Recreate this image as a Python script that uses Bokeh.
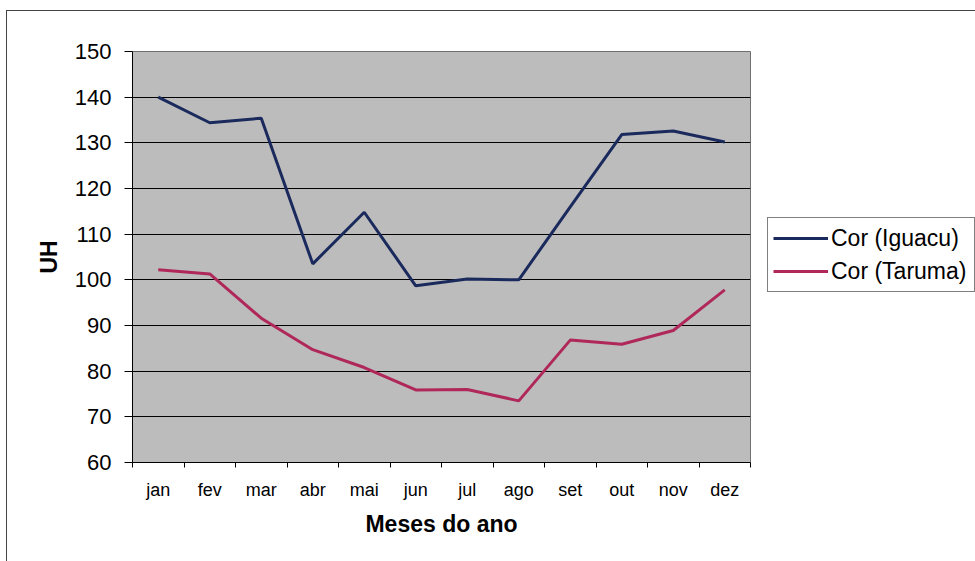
from bokeh.plotting import figure
from bokeh.layouts import row
from bokeh.models import FixedTicker, Legend, LegendItem, Range1d
from bokeh.embed import file_html
from bokeh.resources import INLINE

months = ["jan", "fev", "mar", "abr", "mai", "jun", "jul", "ago", "set", "out", "nov", "dez"]
cor_iguacu = [140.0, 134.4, 135.4, 103.5, 114.8, 98.7, 100.2, 100.0, 116.0, 131.8, 132.6, 130.2]
cor_taruma = [102.2, 101.3, 91.6, 84.7, 80.8, 75.9, 76.0, 73.5, 86.8, 85.9, 88.9, 97.8]
series_names = ["Cor (Iguacu)", "Cor (Taruma)"]
series_colors = ["#1b2a5c", "#b0285a"]
y_ticks = [60, 70, 80, 90, 100, 110, 120, 130, 140, 150]

xs = list(range(1, len(months) + 1))
FONT = "Liberation Sans"

# ---- main chart -------------------------------------------------------
p = figure(width=744, height=550, output_backend="svg", toolbar_location=None,
           x_range=Range1d(0.5, 12.5), y_range=Range1d(60, 150),
           min_border_left=125, min_border_right=1, min_border_top=40, min_border_bottom=99)

p.background_fill_color = "#bcbcbc"
p.border_fill_color = "white"
p.outline_line_color = "#707070"
p.outline_line_width = 1

# y axis
p.yaxis.ticker = FixedTicker(ticks=y_ticks)
p.yaxis.major_label_text_font = FONT
p.yaxis.major_label_text_font_size = "22px"
p.yaxis.major_label_text_color = "black"
p.yaxis.major_label_standoff = 13
p.yaxis.major_tick_out = 8
p.yaxis.major_tick_in = 0
p.yaxis.minor_tick_out = 0
p.yaxis.axis_line_color = "black"
p.yaxis.major_tick_line_color = "black"
p.yaxis.axis_label = "UH"
p.yaxis.axis_label_text_font = FONT
p.yaxis.axis_label_text_font_style = "bold"
p.yaxis.axis_label_text_font_size = "23px"
p.yaxis.axis_label_text_color = "black"
p.yaxis.axis_label_standoff = 10

# x axis: labels at month centres, ticks at the boundaries between months
p.xaxis.ticker = FixedTicker(ticks=xs, minor_ticks=[x + 0.5 for x in range(0, 13)])
p.xaxis.major_label_overrides = {x: m for x, m in zip(xs, months)}
p.xaxis.major_tick_out = 0
p.xaxis.major_tick_in = 0
p.xaxis.minor_tick_out = 5
p.xaxis.minor_tick_in = 0
p.xaxis.minor_tick_line_color = "black"
p.xaxis.axis_line_color = "black"
p.xaxis.major_label_text_font = FONT
p.xaxis.major_label_text_font_size = "18px"
p.xaxis.major_label_text_color = "black"
p.xaxis.major_label_standoff = 12
p.xaxis.axis_label = "Meses do ano"
p.xaxis.axis_label_text_font = FONT
p.xaxis.axis_label_text_font_style = "bold"
p.xaxis.axis_label_text_font_size = "23px"
p.xaxis.axis_label_text_color = "black"
p.xaxis.axis_label_standoff = 8

p.xgrid.grid_line_color = None
p.ygrid.ticker = FixedTicker(ticks=y_ticks)
p.ygrid.grid_line_color = "black"
p.ygrid.grid_line_width = 1

p.line(xs, cor_iguacu, line_color=series_colors[0], line_width=3)
p.line(xs, cor_taruma, line_color=series_colors[1], line_width=3)

# ---- legend panel to the right of the chart ---------------------------
lg = figure(width=225, height=550, output_backend="svg", toolbar_location=None,
            x_range=Range1d(0, 1), y_range=Range1d(0, 1),
            x_axis_location=None, y_axis_location=None,
            min_border_left=0, min_border_right=0, min_border_top=0, min_border_bottom=0)
lg.outline_line_color = None
lg.xgrid.grid_line_color = None
lg.ygrid.grid_line_color = None
lg.background_fill_color = "white"

# key renderers for the legend, kept outside the visible range of this panel
keys = [lg.line([5, 6], [5, 6], line_color=c, line_width=3) for c in series_colors]
legend = Legend(items=[LegendItem(label=n, renderers=[k]) for n, k in zip(series_names, keys)],
                location=(16, 170), orientation="vertical",
                label_text_font=FONT, label_text_font_size="23px",
                label_text_color="black", glyph_width=55, glyph_height=30,
                label_height=30, label_width=138,
                label_standoff=3, spacing=3, padding=5, margin=0,
                border_line_color="black", border_line_width=1,
                background_fill_color="white", background_fill_alpha=1)
lg.add_layout(legend, "center")

layout = row(p, lg)
layout.styles = {"margin-left": "6px", "margin-top": "10px",
                 "border-left": "1.5px solid #444444", "border-top": "1.5px solid #444444"}

open("out.html", "w").write(file_html(layout, INLINE))
